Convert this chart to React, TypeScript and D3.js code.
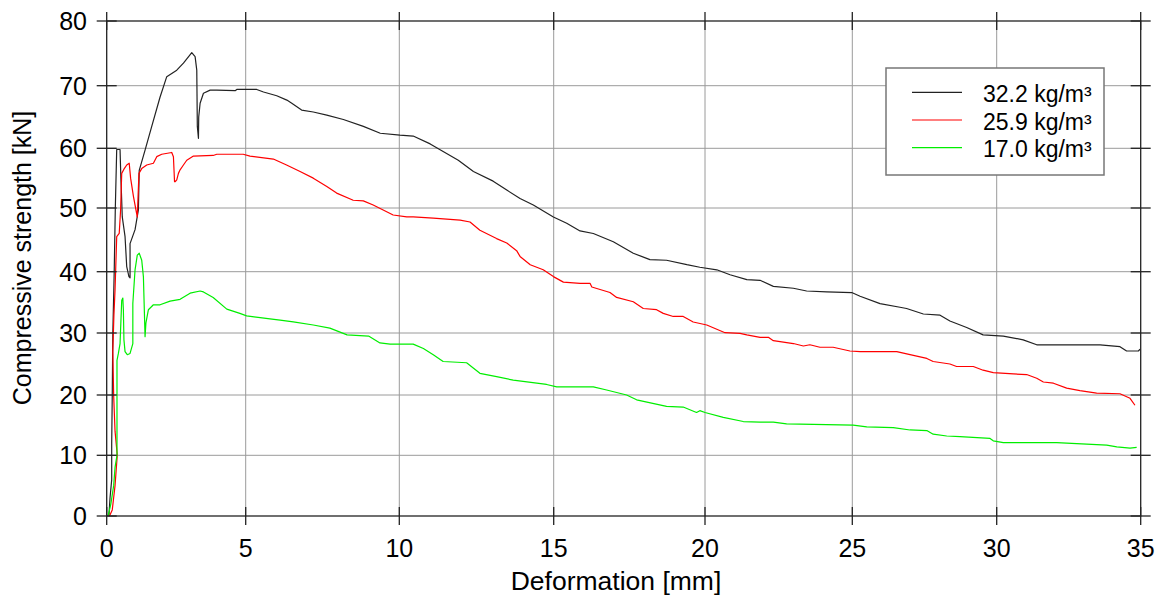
import React from 'react';
import * as d3 from 'd3';

// deformation [mm] / compressive strength [kN]
const blackX = [0.08, 0.12, 0.18, 0.18, 0.2, 0.22, 0.27, 0.31, 0.36, 0.48, 0.51, 0.53, 0.56, 0.66, 0.72, 0.8, 0.84, 0.84, 1.02, 1.14, 1.17, 1.38, 1.62, 1.92, 2.16, 2.52, 2.76, 3.06, 3.18, 3.24, 3.26, 3.3, 3.31, 3.36, 3.48, 3.72, 3.96, 4.62, 4.68, 5.36, 5.58, 6.01, 6.34, 6.5, 6.82, 7.2, 7.64, 8.18, 8.83, 9.38, 10.02, 10.45, 11.0, 11.91, 12.4, 13.04, 13.48, 13.91, 14.34, 14.99, 15.43, 15.87, 16.31, 16.97, 17.63, 18.18, 18.73, 19.4, 19.83, 20.4, 20.85, 21.42, 21.87, 22.32, 23.0, 23.45, 24.13, 24.98, 25.27, 25.96, 26.65, 26.88, 27.46, 28.04, 28.38, 28.96, 29.53, 30.23, 30.92, 31.39, 33.59, 34.28, 34.51, 34.92, 34.98];
const blackY = [0, 3, 6, 12, 20, 30, 40, 50, 59.8, 59.8, 55, 52.5, 48.6, 45.5, 40.8, 39.2, 39.0, 44.4, 46.6, 49.7, 56.3, 59.7, 63.5, 68.2, 71.4, 72.4, 73.5, 75.1, 74.5, 72.4, 63.5, 61.6, 65.0, 67.2, 68.8, 69.3, 69.3, 69.2, 69.4, 69.4, 69.0, 68.4, 67.7, 67.2, 66.1, 65.8, 65.3, 64.6, 63.5, 62.4, 62.1, 61.96, 60.7, 58.0, 56.1, 54.5, 53.0, 51.6, 50.5, 48.6, 47.6, 46.4, 46.0, 44.7, 42.9, 41.9, 41.8, 41.1, 40.7, 40.3, 39.5, 38.7, 38.6, 37.6, 37.3, 36.85, 36.7, 36.6, 36.0, 34.8, 34.2, 34.0, 33.1, 32.9, 31.96, 30.9, 29.7, 29.5, 28.9, 28.1, 28.1, 27.8, 27.1, 27.1, 27.4];

const redX = [0.1, 0.2, 0.25, 0.3, 0.38, 0.3, 0.25, 0.22, 0.26, 0.3, 0.36, 0.45, 0.5, 0.54, 0.62, 0.72, 0.81, 0.86, 0.96, 1.06, 1.1, 1.16, 1.26, 1.44, 1.68, 1.8, 1.98, 2.34, 2.4, 2.44, 2.46, 2.52, 2.58, 2.64, 2.76, 2.88, 3.12, 3.83, 3.96, 4.91, 5.14, 5.9, 6.33, 6.77, 7.2, 7.64, 7.96, 8.5, 8.83, 9.15, 9.8, 10.24, 10.45, 11.1, 11.97, 12.29, 12.61, 13.15, 13.48, 13.8, 13.91, 14.24, 14.66, 14.99, 15.32, 15.87, 16.2, 16.26, 16.86, 17.08, 17.63, 17.96, 18.4, 18.62, 18.95, 19.28, 19.61, 20.06, 20.68, 21.19, 21.42, 21.87, 22.15, 22.32, 23.0, 23.34, 23.56, 23.9, 24.35, 24.92, 25.27, 26.54, 27.0, 27.58, 27.8, 28.38, 28.61, 29.19, 29.53, 29.88, 30.58, 31.04, 31.39, 31.62, 31.97, 32.43, 32.89, 33.47, 34.28, 34.63, 34.8];
const redY = [0, 1, 3, 5, 10, 14, 20, 27, 33, 37, 45.5, 46, 49.7, 55.8, 56.5, 57.2, 57.5, 55, 52, 49.5, 48.6, 55.8, 56.6, 57.2, 57.5, 58.6, 59.0, 59.3, 58.6, 54.4, 54.4, 54.7, 55.8, 56.4, 57.2, 58.0, 58.7, 58.8, 59.0, 59.0, 58.7, 58.2, 57.2, 56.1, 55.0, 53.6, 52.5, 51.3, 51.2, 50.5, 48.9, 48.6, 48.6, 48.4, 48.1, 47.8, 46.5, 45.2, 44.5, 43.3, 42.4, 41.1, 40.3, 39.2, 38.3, 38.1, 38.1, 37.5, 36.6, 35.8, 35.1, 34.0, 33.8, 33.2, 32.7, 32.7, 31.8, 31.3, 30.05, 29.95, 29.7, 29.3, 29.3, 28.76, 28.3, 27.9, 28.1, 27.7, 27.7, 27.1, 27.0, 27.0, 26.5, 25.9, 25.4, 25.0, 24.6, 24.6, 24.0, 23.6, 23.4, 23.3, 22.7, 22.1, 21.9, 21.1, 20.7, 20.3, 20.2, 19.45, 18.3];

const greenX = [0.05, 0.15, 0.25, 0.3, 0.37, 0.37, 0.37, 0.42, 0.48, 0.54, 0.58, 0.6, 0.62, 0.66, 0.74, 0.84, 0.94, 0.94, 1.02, 1.1, 1.17, 1.26, 1.32, 1.38, 1.41, 1.5, 1.68, 1.92, 2.28, 2.64, 3.0, 3.36, 3.48, 3.83, 4.32, 4.79, 5.03, 5.47, 5.79, 6.12, 6.55, 7.2, 7.74, 8.3, 9.0, 9.37, 9.7, 10.45, 10.78, 11.1, 11.42, 12.18, 12.61, 13.15, 13.69, 14.77, 15.1, 16.31, 16.75, 17.41, 17.74, 18.73, 19.28, 19.72, 19.83, 20.0, 20.62, 21.3, 21.87, 22.32, 22.77, 25.03, 25.5, 26.42, 27.0, 27.58, 27.8, 28.27, 28.73, 29.77, 29.88, 30.23, 32.08, 33.82, 34.17, 34.63, 34.86];
const greenY = [0, 2, 5, 8, 10, 20, 25.6, 26.7, 28.3, 35.3, 35.7, 33.8, 28.9, 27.0, 26.5, 26.7, 28.3, 34.8, 40.3, 42.6, 42.9, 41.8, 39.2, 29.4, 31.6, 33.8, 34.6, 34.6, 35.2, 35.5, 36.5, 36.85, 36.7, 35.8, 33.9, 33.2, 32.8, 32.5, 32.3, 32.1, 31.8, 31.3, 30.8, 29.7, 29.5, 28.4, 28.2, 28.2, 27.5, 26.5, 25.4, 25.2, 23.5, 22.95, 22.4, 21.7, 21.3, 21.3, 20.8, 20.0, 19.2, 18.1, 18.0, 17.1, 17.4, 17.1, 16.3, 15.6, 15.5, 15.5, 15.2, 15.0, 14.7, 14.6, 14.2, 14.1, 13.5, 13.2, 13.1, 12.8, 12.4, 12.1, 12.1, 11.7, 11.4, 11.2, 11.3];

const xTicks = [0, 5, 10, 15, 20, 25, 30, 35];
const yTicks = [0, 10, 20, 30, 40, 50, 60, 70, 80];
const seriesNames = ['32.2 kg/m³', '25.9 kg/m³', '17.0 kg/m³'];
const seriesColors = ['#222222', '#ff0000', '#00ee00'];

const FONT = 'Arial, "Liberation Sans", Helvetica, sans-serif';

export default function App() {
  // the original plot spacing is not quite even, so the scales are polylinear
  const x = d3.scaleLinear().domain(xTicks).range([106.7, 245.7, 399.3, 553.7, 705, 852.3, 996.7, 1140.7]);
  const y = d3.scaleLinear().domain(yTicks).range([516, 455.3, 395, 333, 271.7, 208, 148.3, 85.7, 21]);

  const [x0, x1] = [x(0), x(35)];
  const [y0, y1] = [y(0), y(80)];

  const line = d3.line<[number, number]>()
    .x(d => x(d[0]))
    .y(d => y(d[1]));

  const series = [
    d3.zip(blackX, blackY) as [number, number][],
    d3.zip(redX, redY) as [number, number][],
    d3.zip(greenX, greenY) as [number, number][],
  ];

  const axisColor = '#222';
  const gridColor = '#9a9a9a';

  return (
    <div style={{ position: 'absolute', left: 0, top: 0 }}>
      <svg width={1164} height={603} style={{ display: 'block', background: '#fff' }}>
        {/* grid */}
        {xTicks.slice(1, -1).map(t => (
          <line key={'gx' + t} x1={x(t)} x2={x(t)} y1={y1} y2={y0} stroke={gridColor} strokeWidth={1} />
        ))}
        {yTicks.slice(1, -1).map(t => (
          <line key={'gy' + t} x1={x0} x2={x1} y1={y(t)} y2={y(t)} stroke={gridColor} strokeWidth={1} />
        ))}

        {/* data */}
        {series.map((s, i) => (
          <path key={i} d={line(s) || ''} fill="none" stroke={seriesColors[i]} strokeWidth={1.2} strokeLinejoin="round" />
        ))}

        {/* frame */}
        <rect x={x0} y={y1} width={x1 - x0} height={y0 - y1} fill="none" stroke={axisColor} strokeWidth={1.3} />
        {xTicks.map(t => (
          <g key={'tx' + t}>
            <line x1={x(t)} x2={x(t)} y1={y0 - 9} y2={y0 + 9} stroke={axisColor} strokeWidth={1.3} />
            <line x1={x(t)} x2={x(t)} y1={y1 - 9} y2={y1 + 9} stroke={axisColor} strokeWidth={1.3} />
            <text x={x(t)} y={557} textAnchor="middle" fontFamily={FONT} fontSize={25} fill="#000">{t}</text>
          </g>
        ))}
        {yTicks.map(t => (
          <g key={'ty' + t}>
            <line x1={x0 - 10} x2={x0 + 10} y1={y(t)} y2={y(t)} stroke={axisColor} strokeWidth={1.3} />
            <line x1={x1 - 10} x2={x1 + 10} y1={y(t)} y2={y(t)} stroke={axisColor} strokeWidth={1.3} />
            <text x={87} y={y(t)} dy="0.36em" textAnchor="end" fontFamily={FONT} fontSize={25} fill="#000">{t}</text>
          </g>
        ))}

        {/* axis titles */}
        <text x={616} y={590} textAnchor="middle" fontFamily={FONT} fontSize={26.5} fill="#000">Deformation [mm]</text>
        <text transform="translate(31,258) rotate(-90)" textAnchor="middle" fontFamily={FONT} fontSize={25} fill="#000">Compressive strength [kN]</text>

        {/* legend */}
        <g>
          <rect x={886} y={68} width={218} height={107} fill="#fff" stroke="#777" strokeWidth={1.5} />
          {seriesNames.map((name, i) => (
            <g key={name} transform={`translate(0,${92.3 + i * 27.7})`}>
              <line x1={912} x2={962} y1={0} y2={0} stroke={seriesColors[i]} strokeWidth={1.2} />
              <text x={983} y={9.5} fontFamily={FONT} fontSize={23} fill="#000">{name}</text>
            </g>
          ))}
        </g>
      </svg>
    </div>
  );
}
